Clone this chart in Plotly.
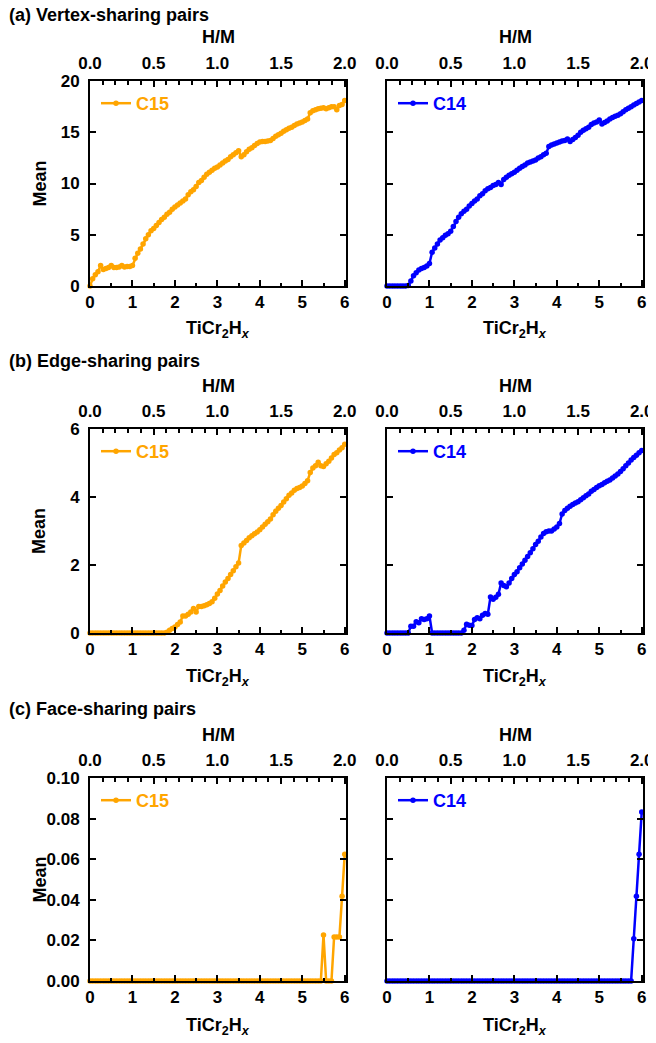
import plotly.graph_objects as go

# ---------------- data ----------------
x_vals = [k / 16 for k in range(97)]  # TiCr2Hx composition grid

c15_vertex = [0.0, 0.7, 1.1, 1.4, 2.0, 1.6, 1.7, 1.8, 2.0, 1.8, 1.8, 1.85, 2.0, 1.85, 1.9, 1.9,
              2.0, 2.7, 3.2, 3.6, 4.1, 4.6, 5.0, 5.4, 5.6, 5.9, 6.2, 6.5, 6.7, 7.0, 7.2, 7.5,
              7.7, 7.9, 8.1, 8.3, 8.5, 8.9, 9.2, 9.4, 9.7, 10.1, 10.3, 10.6, 10.9, 11.1, 11.3, 11.5,
              11.6, 11.8, 12.0, 12.2, 12.35, 12.6, 12.8, 13.0, 13.2, 12.6, 12.8, 13.1, 13.35, 13.5, 13.7, 13.9,
              14.05, 14.1, 14.1, 14.15, 14.2, 14.4, 14.6, 14.75, 14.9, 15.1, 15.25, 15.4, 15.5, 15.65, 15.8, 15.9,
              16.0, 16.15, 16.3, 16.9, 17.1, 17.2, 17.3, 17.35, 17.4, 17.3, 17.4, 17.5, 17.5, 17.2, 17.6, 17.7,
              18.1]

c14_vertex = [0, 0, 0, 0, 0, 0, 0, 0, 0.05, 0.5, 1.0, 1.3, 1.55, 1.7, 1.8, 1.95,
              2.2, 3.3, 3.7, 4.1, 4.5, 4.7, 4.95, 5.1, 5.35, 5.8, 6.3, 6.7, 7.05, 7.3, 7.5, 7.8,
              8.05, 8.3, 8.5, 8.8, 9.0, 9.3, 9.5, 9.6, 9.8, 9.9, 10.1, 9.9, 10.4, 10.6, 10.8, 10.95,
              11.1, 11.3, 11.5, 11.65, 11.8, 12.0, 12.1, 12.2, 12.3, 12.5, 12.6, 12.8, 12.95, 13.6, 13.75, 13.85,
              13.95, 14.05, 14.15, 14.2, 14.35, 14.1, 14.3, 14.5, 14.7, 15.0, 15.2, 15.35, 15.5, 15.75, 15.9, 16.0,
              16.2, 15.8, 15.95, 16.1, 16.3, 16.45, 16.55, 16.65, 16.8, 17.0, 17.2, 17.35, 17.5, 17.65, 17.8, 17.95,
              18.1]

c15_edge = [0] * 29 + [0.02, 0.08, 0.13,
            0.18, 0.25, 0.32, 0.5, 0.5, 0.55, 0.62, 0.72, 0.62, 0.78, 0.78, 0.8, 0.83, 0.87, 0.92, 1.02,
            1.15, 1.25, 1.38, 1.5, 1.6, 1.72, 1.83, 1.95, 2.06, 2.57, 2.65, 2.72, 2.8, 2.86, 2.92, 2.97,
            3.04, 3.12, 3.2, 3.27, 3.35, 3.48, 3.58, 3.67, 3.75, 3.85, 3.95, 4.05, 4.12, 4.2, 4.25, 4.28,
            4.32, 4.4, 4.48, 4.72, 4.85, 4.92, 5.02, 4.92, 4.9, 4.98, 5.05, 5.15, 5.25, 5.3, 5.38, 5.45,
            5.55]

c14_edge = [0, 0, 0, 0, 0, 0, 0, 0, 0, 0.2, 0.2, 0.33, 0.3, 0.42, 0.4, 0.42,
            0.5] + [0] * 12 + [0.08, 0.26, 0.23,
            0.22, 0.4, 0.45, 0.42, 0.52, 0.57, 0.55, 1.06, 0.99, 1.05, 1.14, 1.47, 1.4, 1.36, 1.47, 1.6,
            1.72, 1.8, 1.92, 2.03, 2.14, 2.25, 2.36, 2.48, 2.6, 2.7, 2.82, 2.93, 2.98, 3.0, 3.0, 3.06,
            3.12, 3.22, 3.5, 3.6, 3.67, 3.73, 3.78, 3.82, 3.86, 3.92, 3.98, 4.04, 4.09, 4.17, 4.22, 4.28,
            4.33, 4.37, 4.42, 4.46, 4.5, 4.56, 4.62, 4.68, 4.75, 4.83, 4.92, 5.0, 5.09, 5.16, 5.23, 5.3,
            5.37]

c15_face = [0] * 88 + [0.0227, 0, 0, 0, 0.0217, 0.0217, 0.0217, 0.0417, 0.0625]
c14_face = [0] * 93 + [0.0208, 0.0417, 0.0625, 0.0833]

panel_titles = ["(a) Vertex-sharing pairs", "(b) Edge-sharing pairs", "(c) Face-sharing pairs"]
series_names = ["C15", "C14"]
series_colors = ["#FFA500", "#0000FF"]
data_rows = [[c15_vertex, c14_vertex], [c15_edge, c14_edge], [c15_face, c14_face]]
y_ranges = [[0, 20], [0, 6], [0, 0.1]]
y_dticks = [5, 2, 0.02]
y_formats = ["d", "d", ".2f"]
bottom_ticks = [0, 1, 2, 3, 4, 5, 6]
top_ticks = [0.0, 0.5, 1.0, 1.5, 2.0]

# ---------------- layout geometry (window pixels) ----------------
WIN_W, WIN_H = 656, 1043
OFF = 8  # the page body margin that offsets the figure inside the window
W, H = WIN_W - OFF, WIN_H - OFF
col_px = [(90, 346), (387, 643)]
row_px = [(81, 286), (429, 633), (778, 981)]
title_y_px = [15, 361, 709]
hm_y_px = [37, 386, 735]
xt_y_px = [329, 677, 1026]
XMAX = 6.03

FONT = "Liberation Sans, Arial, sans-serif"
TICK_SIZE = 17
TEXT_SIZE = 18


def px(xp):
    return (xp - OFF) / W


def py(yp):
    return 1 - (yp - OFF) / H


fig = go.Figure()
layout = dict(
    template="none",
    width=W, height=H, margin=dict(l=0, r=0, t=0, b=0, pad=0, autoexpand=False),
    paper_bgcolor="white", plot_bgcolor="white",
    font=dict(family=FONT, size=TICK_SIZE, color="black", weight="bold"),
    annotations=[],
)

tickfont = dict(family=FONT, size=TICK_SIZE, color="black", weight="bold")
textfont = dict(family=FONT, size=TEXT_SIZE, color="black", weight="bold")

for r in range(3):
    for c in range(2):
        i = r * 2 + c
        xb = 2 * i + 1
        xt = 2 * i + 2
        yi = i + 1
        xb_name = "xaxis" if xb == 1 else f"xaxis{xb}"
        yname = "yaxis" if yi == 1 else f"yaxis{yi}"
        xb_ref = "x" if xb == 1 else f"x{xb}"
        yref = "y" if yi == 1 else f"y{yi}"
        dom_x = [px(col_px[c][0]), px(col_px[c][1])]
        dom_y = [py(row_px[r][1]), py(row_px[r][0])]
        legname = "legend" if i == 0 else f"legend{i + 1}"

        layout[xb_name] = dict(
            domain=dom_x, anchor=yref, range=[0, XMAX], tickvals=bottom_ticks, automargin=False,
            ticks="inside", ticklen=6, tickwidth=2, tickcolor="black",
            minor=dict(dtick=0.5, tick0=0, ticks="inside", ticklen=3.5, tickwidth=2, tickcolor="black"),
            showline=True, linewidth=2, linecolor="black", mirror=True,
            showgrid=False, zeroline=False, tickfont=tickfont,
        )
        layout[f"xaxis{xt}"] = dict(
            overlaying=xb_ref, anchor=yref, side="top", range=[0, XMAX / 3], tickvals=top_ticks,
            tickformat=".1f", automargin=False, ticklabelstandoff=8,
            ticks="inside", ticklen=6, tickwidth=2, tickcolor="black",
            minor=dict(dtick=0.1, tick0=0, ticks="inside", ticklen=3.5, tickwidth=2, tickcolor="black"),
            showline=False, showgrid=False, zeroline=False, tickfont=tickfont,
        )
        layout[yname] = dict(
            domain=dom_y, anchor=xb_ref, range=y_ranges[r], dtick=y_dticks[r], tick0=0,
            tickformat=y_formats[r], automargin=False, ticklabelstandoff=5,
            ticks="inside", ticklen=6, tickwidth=2, tickcolor="black",
            showline=True, linewidth=2, linecolor="black", mirror="ticks",
            showgrid=False, zeroline=False, showticklabels=(c == 0), tickfont=tickfont,
        )
        layout[legname] = dict(
            x=px(col_px[c][0] + 6), y=py(row_px[r][0] + 4), xanchor="left", yanchor="top",
            bgcolor="rgba(0,0,0,0)", borderwidth=0,
            font=dict(family=FONT, size=TEXT_SIZE, color=series_colors[c], weight="bold"),
        )

        ys = data_rows[r][c]
        fig.add_trace(go.Scatter(
            x=x_vals, y=ys, mode="lines+markers", name=series_names[c],
            line=dict(color=series_colors[c], width=2.5),
            marker=dict(color=series_colors[c], size=5.5),
            xaxis=xb_ref, yaxis=yref, legend=legname, showlegend=True,
            cliponaxis=False,
        ))
        # invisible companion trace so the top (H/M) axis is instantiated
        fig.add_trace(go.Scatter(
            x=[v / 3 for v in x_vals], y=ys, mode="lines", opacity=0,
            xaxis=f"x{xt}", yaxis=yref, showlegend=False, hoverinfo="skip",
        ))

        cx = (col_px[c][0] + col_px[c][1]) / 2
        layout["annotations"].append(dict(
            text="H/M", x=px(cx), y=py(hm_y_px[r]), xref="paper", yref="paper",
            xanchor="center", yanchor="middle", showarrow=False, font=textfont))
        layout["annotations"].append(dict(
            text="TiCr<sub>2</sub>H<sub><i>x</i></sub>", x=px(cx), y=py(xt_y_px[r]),
            xref="paper", yref="paper", xanchor="center", yanchor="middle", showarrow=False,
            font=textfont))
        if c == 0:
            cy = (row_px[r][0] + row_px[r][1]) / 2
            layout["annotations"].append(dict(
                text="Mean", x=px(39), y=py(cy), xref="paper", yref="paper",
                xanchor="center", yanchor="middle", showarrow=False, textangle=-90,
                font=textfont))

    layout["annotations"].append(dict(
        text=panel_titles[r], x=px(8), y=py(title_y_px[r]), xref="paper", yref="paper",
        xanchor="left", yanchor="middle", showarrow=False, borderpad=0, font=textfont))

fig.update_layout(**layout)
fig.write_html("out.html")
